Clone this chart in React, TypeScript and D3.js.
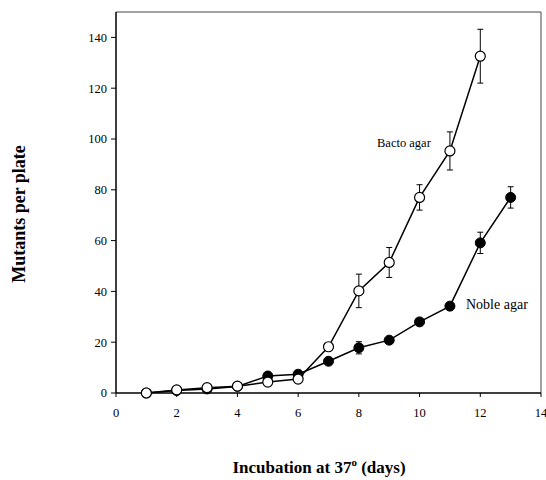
import React from "react";
import * as d3 from "d3";

// days of incubation
const days = [1, 2, 3, 4, 5, 6, 7, 8, 9, 10, 11, 12, 13];

// Bacto agar (open circles), days 1-12
const bactoDays = [1, 2, 3, 4, 5, 6, 7, 8, 9, 10, 11, 12];
const bactoMean = [0, 1.2, 2.1, 2.7, 4.3, 5.5, 18.2, 40.2, 51.4, 77, 95.3, 132.6];
const bactoErr = [0, 0, 0, 0, 0, 0, 0, 6.6, 5.9, 5, 7.5, 10.6];

// Noble agar (filled circles), days 1-13
const nobleMean = [0, 1, 1.6, 2.6, 6.7, 7.4, 12.5, 17.8, 20.8, 28, 34.2, 59.1, 77];
const nobleErr = [0, 0, 0, 0, 0, 0, 0, 2.4, 0, 0, 0, 4.2, 4.2];

const xTicks = [0, 2, 4, 6, 8, 10, 12, 14];
const yTicks = [0, 20, 40, 60, 80, 100, 120, 140];

const FONT = '"Liberation Serif", "DejaVu Serif", "Times New Roman", serif';

export default function App() {
  const left = 116, right = 541, top = 12, bottom = 393;
  const x = d3.scaleLinear().domain([0, 14]).range([left, right]);
  const y = d3.scaleLinear().domain([0, 150]).range([bottom, top]);

  const line = d3.line<[number, number]>()
    .x(d => x(d[0]))
    .y(d => y(d[1]));

  const noblePts: [number, number][] = days.map((d, i) => [d, nobleMean[i]]);
  const bactoPts: [number, number][] = bactoDays.map((d, i) => [d, bactoMean[i]]);

  const errBars = (pts: [number, number][], errs: number[], key: string) =>
    pts.map((p, i) => errs[i] > 0 ? (
      <g key={key + i} stroke="#000" strokeWidth={1}>
        <line x1={x(p[0])} x2={x(p[0])} y1={y(p[1] + errs[i])} y2={y(p[1] - errs[i])} />
        <line x1={x(p[0]) - 3} x2={x(p[0]) + 3} y1={y(p[1] + errs[i])} y2={y(p[1] + errs[i])} />
        <line x1={x(p[0]) - 3} x2={x(p[0]) + 3} y1={y(p[1] - errs[i])} y2={y(p[1] - errs[i])} />
      </g>
    ) : null);

  return (
    <svg width={546} height={480} style={{ position: "absolute", left: 0, top: 0, fontFamily: FONT }}>
      <rect width={546} height={480} fill="#fff" />

      {/* frame: top and right */}
      <line x1={left} x2={right} y1={top} y2={top} stroke="#444" strokeWidth={1} />
      <line x1={right} x2={right} y1={top} y2={bottom} stroke="#444" strokeWidth={1} />

      {/* axes */}
      <line x1={left} x2={left} y1={top} y2={bottom} stroke="#000" strokeWidth={1.5} />
      <line x1={left} x2={right} y1={bottom} y2={bottom} stroke="#000" strokeWidth={1.5} />

      {yTicks.map(t => (
        <g key={"y" + t}>
          <line x1={left - 5} x2={left} y1={y(t)} y2={y(t)} stroke="#000" strokeWidth={1} />
          <text x={left - 9} y={y(t)} dy="0.35em" textAnchor="end" fontSize={12.5}>{t}</text>
        </g>
      ))}
      {xTicks.map(t => (
        <g key={"x" + t}>
          <line x1={x(t)} x2={x(t)} y1={bottom} y2={bottom + 4} stroke="#000" strokeWidth={1} />
          <text x={x(t)} y={bottom + 24} textAnchor="middle" fontSize={12.5}>{t}</text>
        </g>
      ))}

      {/* Noble agar */}
      {errBars(noblePts, nobleErr, "ne")}
      <path d={line(noblePts) || ""} fill="none" stroke="#000" strokeWidth={1.5} />
      {noblePts.map((p, i) => (
        <circle key={"n" + i} cx={x(p[0])} cy={y(p[1])} r={5} fill="#000" stroke="#000" strokeWidth={1} />
      ))}

      {/* Bacto agar */}
      {errBars(bactoPts, bactoErr, "be")}
      <path d={line(bactoPts) || ""} fill="none" stroke="#000" strokeWidth={1.5} />
      {bactoPts.map((p, i) => (
        <circle key={"b" + i} cx={x(p[0])} cy={y(p[1])} r={5} fill="#fff" stroke="#000" strokeWidth={1.2} />
      ))}

      <text x={377} y={147} fontSize={12.5}>Bacto agar</text>
      <text x={466} y={309} fontSize={14}>Noble agar</text>

      <text transform="translate(25,214) rotate(-90)" textAnchor="middle" fontSize={18} fontWeight="bold">
        Mutants per plate
      </text>
      <text x={319} y={473} textAnchor="middle" fontSize={17} fontWeight="bold">
        Incubation at 37<tspan fontSize={11} dy={-7}>o</tspan><tspan dy={7}> (days)</tspan>
      </text>
    </svg>
  );
}
